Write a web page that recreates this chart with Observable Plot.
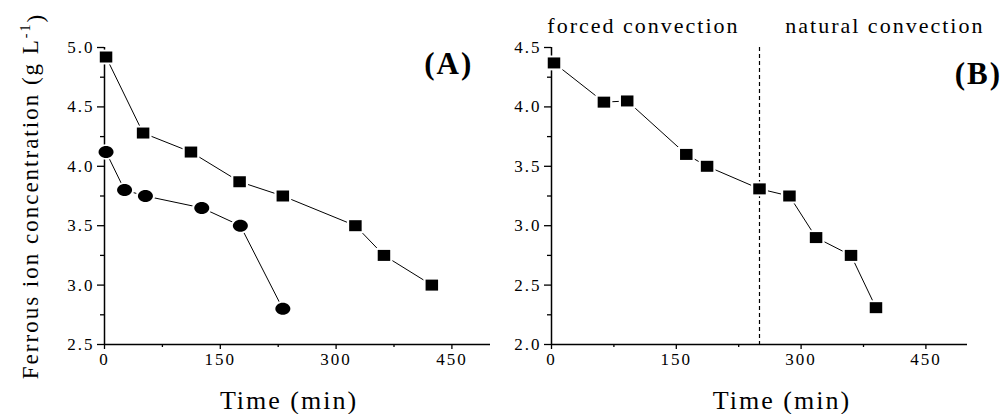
<!DOCTYPE html>
<html><head><meta charset="utf-8">
<script src="https://cdn.jsdelivr.net/npm/d3@7"></script>
<script src="https://cdn.jsdelivr.net/npm/@observablehq/plot@0.6"></script>
<style>
body{margin:0;background:#fff;}
#wrap{position:relative;width:1003px;height:414px;overflow:hidden;background:#fff;}
#wrap svg{position:absolute;top:0;overflow:visible;}
</style></head><body><div id="wrap"></div>
<script>
// Panel A: two series
const timeA1 = [2, 50, 112, 175, 231, 325, 362, 424];
const concA1 = [4.92, 4.28, 4.12, 3.87, 3.75, 3.50, 3.25, 3.00];
const timeA2 = [2, 26, 53, 126, 176, 231];
const concA2 = [4.12, 3.80, 3.75, 3.65, 3.50, 2.80];
// Panel B
const timeB = [3, 63, 91, 162, 187, 250, 286, 318, 360, 390];
const concB = [4.37, 4.04, 4.05, 3.60, 3.50, 3.31, 3.25, 2.90, 2.75, 2.31];
const switchTime = 250;
// ticks
const xTicks = [0, 150, 300, 450];
const xMinor = [75, 225, 375];
const yTicksA = [2.5, 3.0, 3.5, 4.0, 4.5, 5.0];
const yMinorA = [2.75, 3.25, 3.75, 4.25, 4.75];
const yTicksB = [2.0, 2.5, 3.0, 3.5, 4.0, 4.5];
const yMinorB = [2.25, 2.75, 3.25, 3.75, 4.25];
const xLabel = "Time (min)";
const yLabel = "Ferrous ion concentration (g L";

const toRows = (xs, ys) => xs.map((x, i) => ({x, y: ys[i]}));
const A1 = toRows(timeA1, concA1), A2 = toRows(timeA2, concA2), B = toRows(timeB, concB);

function rectSym(wr, hr) {
  return {draw(ctx, size) {
    const r = Math.sqrt(size / Math.PI), w = r * wr, h = r * hr;
    ctx.moveTo(-w, -h); ctx.lineTo(w, -h); ctx.lineTo(w, h); ctx.lineTo(-w, h); ctx.closePath();
  }};
}
function ellSym(wr, hr) {
  return {draw(ctx, size) {
    const r = Math.sqrt(size / Math.PI), a = r * wr, b = r * hr, k = 0.5523;
    ctx.moveTo(a, 0);
    ctx.bezierCurveTo(a, k * b, k * a, b, 0, b);
    ctx.bezierCurveTo(-k * a, b, -a, k * b, -a, 0);
    ctx.bezierCurveTo(-a, -k * b, -k * a, -b, 0, -b);
    ctx.bezierCurveTo(k * a, -b, a, -k * b, a, 0);
    ctx.closePath();
  }};
}
const sq = rectSym(1, 0.88), el = ellSym(1, 0.8);

function series(rows, sym, r) {
  return [
    Plot.line(rows, {x: "x", y: "y", stroke: "black", strokeWidth: 1}),
    Plot.dot(rows, {x: "x", y: "y", symbol: sym, r: r + 2.2, fill: "white", stroke: "none"}),
    Plot.dot(rows, {x: "x", y: "y", symbol: sym, r: r, fill: "black", stroke: "none"})
  ];
}
function axes(yMin, yTicks, yMinor) {
  return [
    Plot.axisX(xTicks, {tickSize: 5, tickPadding: 3, fontSize: 17, strokeWidth: 1.3, label: null}),
    Plot.axisX(xMinor, {tickSize: 3, tickFormat: () => "", strokeWidth: 1.3, label: null}),
    Plot.axisY(yTicks, {tickSize: 7, tickPadding: 3, fontSize: 17, tickFormat: d3.format(".1f"), strokeWidth: 1.3, label: null}),
    Plot.axisY(yMinor, {tickSize: 4, tickFormat: () => "", strokeWidth: 1.3, label: null}),
    Plot.ruleX([0], {strokeWidth: 1.5}),
    Plot.ruleY([yMin], {strokeWidth: 1.5})
  ];
}
const style = {fontFamily: "'Liberation Serif', 'Times New Roman', serif", fontSize: "17px", letterSpacing: "2px", color: "black", background: "white", overflow: "visible"};

const plotA = Plot.plot({
  width: 500, height: 414, marginLeft: 104, marginRight: 10, marginTop: 47, marginBottom: 70,
  style,
  x: {domain: [0, 500]},
  y: {domain: [2.5, 5.0]},
  marks: [
    ...axes(2.5, yTicksA, yMinorA),
    ...series(A1, sq, 6.25),
    ...series(A2, el, 7.5),
    Plot.text([{t: "(A)", x: 446, y: 4.78}], {x: "x", y: "y", text: "t", fontSize: 31, fontWeight: "bold", lineAnchor: "bottom"}),
    Plot.text([{t: xLabel, x: 239}], {x: "x", text: "t", frameAnchor: "bottom", dy: 64, lineAnchor: "bottom", fontSize: 26}),
    Plot.text([yLabel], {frameAnchor: "left", textAnchor: "middle", dx: -74, rotate: -90, fontSize: 23})
  ]
});

const plotB = Plot.plot({
  width: 503, height: 414, marginLeft: 51, marginRight: 36, marginTop: 47, marginBottom: 70,
  style,
  x: {domain: [0, 500]},
  y: {domain: [2.0, 4.5]},
  marks: [
    ...axes(2.0, yTicksB, yMinorB),
    Plot.ruleX([switchTime], {strokeDasharray: "4,3", strokeWidth: 1.2}),
    ...series(B, sq, 6.25),
    Plot.text([{t: "(B)", x: 513, y: 4.19}], {x: "x", y: "y", text: "t", fontSize: 31, fontWeight: "bold", lineAnchor: "bottom"}),
    Plot.text([{t: "forced convection", x: -5, y: 4.626}, {t: "natural convection", x: 281, y: 4.626}], {x: "x", y: "y", text: "t", textAnchor: "start", lineAnchor: "bottom", fontSize: 22}),
    Plot.text([{t: xLabel, x: 277}], {x: "x", text: "t", frameAnchor: "bottom", dy: 64, lineAnchor: "bottom", fontSize: 26})
  ]
});

plotA.style.left = "0px";
plotB.style.left = "500px";
const wrap = document.getElementById("wrap");
wrap.appendChild(plotA);
wrap.appendChild(plotB);

// superscript unit on y label
d3.select(plotA).selectAll("text").filter(function() { return this.textContent === yLabel; }).each(function() {
  const t = d3.select(this);
  t.text(null);
  t.append("tspan").text(yLabel);
  t.append("tspan").attr("dy", "-0.55em").attr("font-size", "14px").text("-1");
  t.append("tspan").attr("dy", "0.55em").text(")");
});
</script>
</body></html>
